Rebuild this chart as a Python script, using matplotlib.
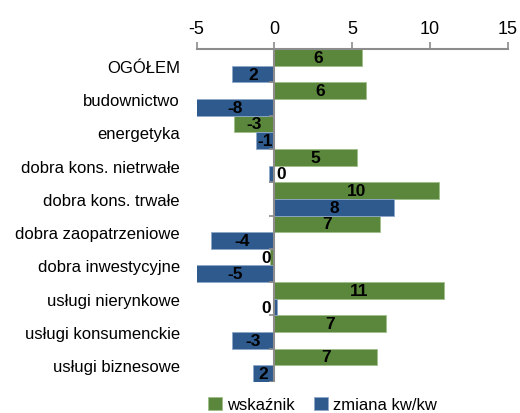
import matplotlib.pyplot as plt
import numpy as np

categories = ['OGÓŁEM', 'budownictwo', 'energetyka', 'dobra kons. nietrwałe',
              'dobra kons. trwałe', 'dobra zaopatrzeniowe', 'dobra inwestycyjne',
              'usługi nierynkowe', 'usługi konsumenckie', 'usługi biznesowe']
wskaznik = [5.65, 5.9, -2.6, 5.3, 10.6, 6.8, -0.25, 10.9, 7.2, 6.6]
zmiana = [-2.7, -8.0, -1.2, -0.35, 7.7, -4.1, -5.2, 0.15, -2.7, -1.4]
wskaznik_lbl = ['6', '6', '-3', '5', '10', '7', '0', '11', '7', '7']
zmiana_lbl = ['2', '-8', '-1', '0', '8', '-4', '-5', '0', '-3', '2']

green = '#5B873C'
blue = '#2E5A8E'
grey = '#8C8C8C'
xmin, xmax = -5, 15

plt.rcParams['font.family'] = ['Liberation Sans', 'DejaVu Sans']

fig = plt.figure(figsize=(5.2, 4.14), dpi=100)
ax = fig.add_axes([0.378, 0.075, 0.598, 0.804])

y = np.arange(len(categories))
h = 0.5
ax.barh(y - h / 2, wskaznik, height=h, color=green, edgecolor='#9fbf8a', linewidth=0.6, label='wskaźnik')
ax.barh(y + h / 2, zmiana, height=h, color=blue, edgecolor='#8fa8c8', linewidth=0.6, label='zmiana kw/kw')

ax.set_xlim(xmin, xmax)
ax.set_ylim(len(categories) - 0.5, -0.5)

# value labels in the middle of the visible part of each bar
for yy, vals, lbls in [(y - h / 2, wskaznik, wskaznik_lbl), (y + h / 2, zmiana, zmiana_lbl)]:
    for yi, v, t in zip(yy, vals, lbls):
        vis = min(max(v, xmin), xmax)
        xc = vis / 2
        if abs(v) < 0.5:
            xc = 0.45 if v < -0.3 else -0.5
        ax.text(xc, yi, t, ha='center', va='center', fontsize=12.5, fontweight='bold', color='black')

# top value axis
ax.xaxis.tick_top()
ax.set_xticks([-5, 0, 5, 10, 15])
ax.set_xticklabels(['-5', '0', '5', '10', '15'])
ax.tick_params(axis='x', colors=grey, labelcolor='black', labelsize=13, length=5, width=1.2, pad=4)
for s in ['bottom', 'left', 'right']:
    ax.spines[s].set_visible(False)
ax.spines['top'].set_color(grey)
ax.spines['top'].set_linewidth(1.5)

# category axis crossing at zero
ax.axvline(0, color=grey, linewidth=1.5)
ax.hlines(np.arange(len(categories)) + 0.5, -0.33, 0, color=grey, linewidth=1.2)

ax.set_yticks(y)
ax.set_yticklabels(categories)
ax.tick_params(axis='y', length=0, pad=12, labelsize=12)

fig.legend(loc='lower center', bbox_to_anchor=(0.62, -0.035), ncol=2, frameon=False,
           fontsize=12, handlelength=0.8, handleheight=0.8, handletextpad=0.3, columnspacing=1.2)

fig.savefig('out.png', dpi=100)
